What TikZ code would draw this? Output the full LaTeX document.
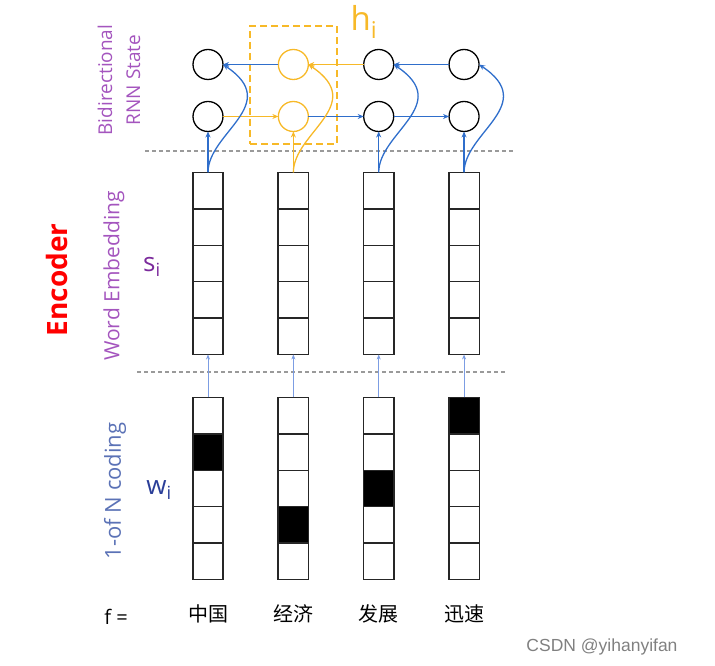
\documentclass[tikz,border=0pt]{standalone}
\usepackage{fontspec}
\setmainfont{Open Sans}
\newfontfamily\zhfont{Noto Sans CJK SC}
\newfontfamily\markfont{Liberation Sans}
\usepackage{xcolor}
\definecolor{rnnblue}{HTML}{2F6ECB}
\definecolor{gold}{HTML}{F7B928}
\definecolor{lilac}{HTML}{A455BE}
\definecolor{plum}{HTML}{7B2A9C}
\definecolor{navy}{HTML}{2A3E98}
\definecolor{slate}{HTML}{5B72B6}
\definecolor{skyline}{HTML}{7C9DE3}
\definecolor{guide}{HTML}{9A9A9A}
\usepackage{tikz}
\usetikzlibrary{
  arrows.meta,
  positioning,
  shapes.multipart
}

\begin{document}
\begin{tikzpicture}[
  x=1pt, y=1pt,
  node distance=55pt,
  vec/.style={rectangle split, rectangle split parts=5, draw=black!85, line width=1.4pt, inner sep=0pt, outer sep=0pt, rectangle split empty part width=25pt, rectangle split empty part height=35pt, rectangle split empty part depth=0pt},
  unit/.style={circle, draw=black, line width=1.3pt, minimum size=30pt, inner sep=0pt, outer sep=0pt},
  hunit/.style={unit, draw=gold},
  barr/.style={-{Stealth[length=6pt, width=5pt]}, line width=1.3pt, rnnblue},
  oarr/.style={barr, gold},
  farr/.style={-{Stealth[length=5pt, width=4pt]}, line width=0.8pt, skyline},
  sep/.style={dash pattern=on 4pt off 3pt, line width=1.2pt, guide},
  lbl/.style={rotate=90, align=center},
  word/.style={font=\zhfont\fontsize{20}{24}\selectfont},
]
\useasboundingbox (0,0) rectangle (715,666);

% Word embedding vectors
\node[vec] (e1) at (208,402.5) {};
\node[vec, right=of e1] (e2) {};
\node[vec, right=of e2] (e3) {};
\node[vec, right=of e3] (e4) {};

% 1-of-N vectors
\node[vec, below=43pt of e1, rectangle split part fill={white,black,white,white,white}] (w1) {};
\node[vec, below=43pt of e2, rectangle split part fill={white,white,white,black,white}] (w2) {};
\node[vec, below=43pt of e3, rectangle split part fill={white,white,black,white,white}] (w3) {};
\node[vec, below=43pt of e4, rectangle split part fill={black,white,white,white,white}] (w4) {};

% RNN states
\node[unit, above=41pt of e1] (b1) {};
\node[unit, above=22pt of b1] (t1) {};
\node[hunit, above=41pt of e2] (b2) {};
\node[hunit, above=22pt of b2] (t2) {};
\node[unit, above=41pt of e3] (b3) {};
\node[unit, above=22pt of b3] (t3) {};
\node[unit, above=41pt of e4] (b4) {};
\node[unit, above=22pt of b4] (t4) {};

% h_i box
\node[draw=gold, dash pattern=on 7pt off 4pt, line width=1.3pt, minimum width=87pt, minimum height=118pt] (hbox) at (293.5,581) {};
\node[text=gold, font=\fontsize{33}{36}\selectfont] (hlab) at (364,644) {h\textsubscript{i}};

% separators
\draw[sep] (145,515) -- (515,515);
\draw[sep] (137,294) -- (507,294);

% labels
\node[lbl, text=lilac, font=\fontsize{19}{28}\selectfont] (rnnlab) at (119,586) {Bidirectional\\RNN State};
\node[lbl, text=lilac, font=\fontsize{21}{24}\selectfont] (emblab) at (114,390) {Word Embedding};
\node[lbl, text=slate, font=\fontsize{22}{24}\selectfont] (onelab) at (115,175) {1-of N coding};
\node[lbl, text=red, font=\bfseries\fontsize{28}{32}\selectfont] (enclab) at (57,386) {Encoder};
\node[text=plum, font=\fontsize{26}{30}\selectfont] (slab) at (152,399) {s\textsubscript{i}};
\node[text=navy, font=\fontsize{26}{30}\selectfont] (wlab) at (159,176) {w\textsubscript{i}};
\node[font=\fontsize{20}{24}\selectfont] (flab) at (116,49) {f =};

% words
\node[word, below=22pt of w1] (c1) {中国};
\node[word, below=22pt of w2] (c2) {经济};
\node[word, below=22pt of w3] (c3) {发展};
\node[word, below=22pt of w4] (c4) {迅速};
\node[text=black!50, font=\markfont\fontsize{17.5}{20}\selectfont] (mark) at (602,19) {CSDN @yihanyifan};

% recurrent links
\draw[barr] (t2.west) -- (t1.east);
\draw[oarr] (t3.west) -- (t2.east);
\draw[barr] (t4.west) -- (t3.east);
\draw[oarr] (b1.east) -- (b2.west);
\draw[barr] (b2.east) -- (b3.west);
\draw[barr] (b3.east) -- (b4.west);

% inputs to states
\draw[barr] (e1.north) -- (b1.south);
\draw[barr] (e1.north) .. controls +(0,40) and +(60,-40) .. (t1.east);
\draw[oarr] (e2.north) -- (b2.south);
\draw[oarr] (e2.north) .. controls +(0,40) and +(60,-40) .. (t2.east);
\draw[barr] (e3.north) -- (b3.south);
\draw[barr] (e3.north) .. controls +(0,40) and +(60,-40) .. (t3.east);
\draw[barr] (e4.north) -- (b4.south);
\draw[barr] (e4.north) .. controls +(0,40) and +(60,-40) .. (t4.east);

% lookup
\draw[farr] (w1.north) -- (e1.south);
\draw[farr] (w2.north) -- (e2.south);
\draw[farr] (w3.north) -- (e3.south);
\draw[farr] (w4.north) -- (e4.south);

\end{tikzpicture}
\end{document}
